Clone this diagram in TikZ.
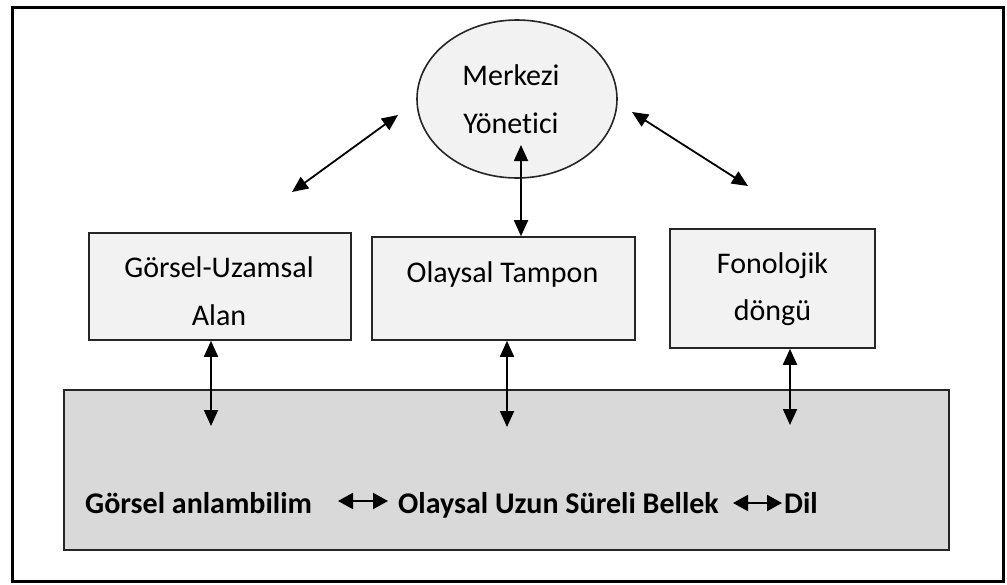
\documentclass[tikz,border=0pt]{standalone}
\usepackage{fontspec}
\setmainfont{Carlito}[Ligatures=NoCommon]
\usetikzlibrary{arrows.meta,shapes.geometric}
\definecolor{lf}{HTML}{F2F2F2}
\definecolor{df}{HTML}{D9D9D9}
\begin{document}
\begin{tikzpicture}[x=1pt,y=-1pt,
  lbl/.style={inner sep=0pt,font=\fontsize{30}{36}\selectfont},
  blbl/.style={inner sep=0pt,font=\fontsize{30}{36}\selectfont\bfseries},
  boxnode/.style={draw=black!85,line width=1.6pt,fill=lf,rectangle,inner sep=0pt},
  ellnode/.style={draw=black!85,line width=1.6pt,fill=lf,ellipse,inner sep=0pt},
  bignode/.style={draw=black!85,line width=2pt,fill=df,rectangle,inner sep=0pt},
  framenode/.style={draw=black,line width=3pt,rectangle,inner sep=0pt},
  conn/.style={line width=1.8pt,{Triangle[length=16pt,width=14pt]}-{Triangle[length=16pt,width=14pt]}},
  tconn/.style={line width=2pt,{Triangle[length=15pt,width=16pt]}-{Triangle[length=15pt,width=16pt]}}]
\useasboundingbox (0,0) rectangle (1007,584);
% outer frame
\node[framenode,minimum width=991pt,minimum height=574pt] (frame) at (507.5,294) {};
% big box
\node[bignode,minimum width=885pt,minimum height=160pt] (big) at (506.5,470) {};
% central executive
\node[ellnode,minimum width=200pt,minimum height=158pt] (me) at (517,99) {};
\node[lbl,anchor=base] (me1) at (511,85) {Merkezi};
\node[lbl,anchor=base] (me2) at (511,133) {Yönetici};
% three boxes
\node[boxnode,minimum width=262pt,minimum height=107pt] (b1) at (220,286.5) {};
\node[lbl,anchor=base] (b1a) at (219,277) {Görsel-Uzamsal};
\node[lbl,anchor=base] (b1b) at (219,325) {Alan};
\node[boxnode,minimum width=263pt,minimum height=103pt] (b2) at (503.5,288.5) {};
\node[lbl,anchor=base] (b2a) at (502.5,282) {Olaysal Tampon};
\node[boxnode,minimum width=205pt,minimum height=119pt] (b3) at (772.5,288.5) {};
\node[lbl,anchor=base] (b3a) at (772.5,273) {Fonolojik};
\node[lbl,anchor=base] (b3b) at (772.5,320) {döngü};
% bottom text
\node[blbl,anchor=base west] (t1) at (85,513) {Görsel anlambilim};
\node[blbl,anchor=base west] (t2) at (398,513) {Olaysal Uzun Süreli Bellek};
\node[blbl,anchor=base west] (t3) at (784,513) {Dil};
% free arrow ends
\coordinate (l1) at (292,192);
\coordinate (l2) at (398,115);
\coordinate (r1) at (632,112);
\coordinate (r2) at (748,186);
\coordinate (c1) at (521,145);
\coordinate (d1) at (211,426);
\coordinate (d2) at (507,427);
\coordinate (d3) at (790,425);
\coordinate (a1) at (338,501);
\coordinate (a2) at (388,501);
\coordinate (a3) at (733,503);
\coordinate (a4) at (782,503);
% connectors
\draw[conn] (l1) -- (l2);
\draw[conn] (r1) -- (r2);
\draw[conn] (c1) -- (c1 |- b2.north);
\draw[conn] (d1 |- b1.south) -- (d1);
\draw[conn] (d2 |- b2.south) -- (d2);
\draw[conn] (d3 |- b3.south) -- (d3);
\draw[tconn] (a1) -- (a2);
\draw[tconn] (a3) -- (a4);
\end{tikzpicture}
\end{document}
